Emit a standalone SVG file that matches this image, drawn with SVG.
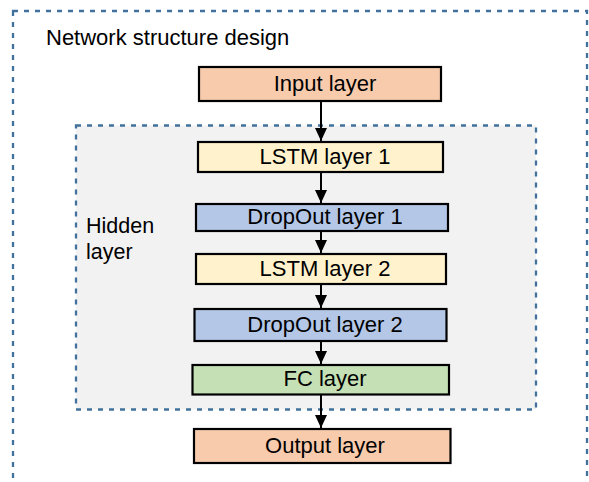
<svg xmlns="http://www.w3.org/2000/svg" width="589" height="482" viewBox="0 0 589 482">
  <defs>
    <marker id="arrow" viewBox="0 0 13 12" refX="13" refY="6" markerWidth="13" markerHeight="12" markerUnits="userSpaceOnUse" orient="auto">
      <path d="M0,0 L13,6 L0,12 Z" fill="#000"/>
    </marker>
    <style>
      .frame { fill: none; stroke: #41719C; stroke-width: 2.3; stroke-dasharray: 5 6; }
      .hidden-frame { fill: #F2F2F2; stroke: #41719C; stroke-width: 2.3; stroke-dasharray: 5 6; }
      .box { stroke: #000; stroke-width: 2.2; }
      .io { fill: #F8CBAD; }
      .lstm { fill: #FFF2CC; }
      .drop { fill: #B4C7E7; }
      .fc { fill: #C5E0B4; }
      .label { font-family: "Liberation Sans", Arial, sans-serif; font-size: 22px; fill: #000; text-anchor: middle; }
      .caption { font-family: "Liberation Sans", Arial, sans-serif; font-size: 21.5px; fill: #000; }
      .title { font-family: "Liberation Sans", Arial, sans-serif; font-size: 22px; fill: #000; }
      .edge { stroke: #000; stroke-width: 2; fill: none; marker-end: url(#arrow); }
    </style>
  </defs>

  <!-- outer frame: network structure -->
  <rect class="frame" x="13" y="11" width="574" height="490"/>
  <text class="title" x="46" y="45">Network structure design</text>

  <!-- hidden-layer frame -->
  <g id="hidden">
    <rect class="hidden-frame" x="76" y="125.5" width="460" height="284"/>
    <text class="caption" x="86" y="233">Hidden</text>
    <text class="caption" x="86" y="259">layer</text>
  </g>

  <g id="connectors">
    <line class="edge" x1="321" y1="101" x2="321" y2="141"/>
    <line class="edge" x1="321" y1="172" x2="321" y2="203"/>
    <line class="edge" x1="321" y1="231" x2="321" y2="253"/>
    <line class="edge" x1="321" y1="284" x2="321" y2="308"/>
    <line class="edge" x1="321" y1="341" x2="321" y2="364"/>
    <line class="edge" x1="321" y1="394" x2="321" y2="428"/>
  </g>

  <g id="input">
    <rect class="box io" x="199" y="67" width="242" height="34"/>
    <text class="label" x="325" y="91">Input layer</text>
  </g>
  <g id="lstm1">
    <rect class="box lstm" x="198" y="142" width="245" height="30"/>
    <text class="label" x="325" y="163.5">LSTM layer 1</text>
  </g>
  <g id="dropout1">
    <rect class="box drop" x="196" y="204" width="252" height="27"/>
    <text class="label" x="325" y="224">DropOut layer 1</text>
  </g>
  <g id="lstm2">
    <rect class="box lstm" x="196" y="254" width="250" height="30"/>
    <text class="label" x="325" y="275.5">LSTM layer 2</text>
  </g>
  <g id="dropout2">
    <rect class="box drop" x="194.5" y="309" width="252" height="32"/>
    <text class="label" x="325" y="331.5">DropOut layer 2</text>
  </g>
  <g id="fc">
    <rect class="box fc" x="192.5" y="365" width="256.5" height="29.5"/>
    <text class="label" x="325" y="385.5">FC layer</text>
  </g>
  <g id="output">
    <rect class="box io" x="194" y="429" width="256.5" height="34"/>
    <text class="label" x="325" y="452.5">Output layer</text>
  </g>
</svg>
